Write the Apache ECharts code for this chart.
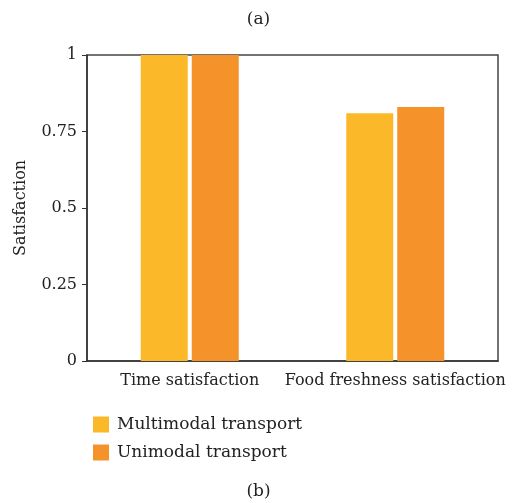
<!DOCTYPE html>
<html>
<head>
<meta charset="utf-8">
<script src="https://cdn.jsdelivr.net/npm/echarts@6/dist/echarts.min.js"></script>
<style>
  html, body { margin: 0; padding: 0; background: #fff; }
  #chart { width: 517px; height: 503px; }
</style>
</head>
<body>
<div id="chart"></div>
<script>
// Satisfaction comparison between transport modes
const categories = ['Time satisfaction', 'Food freshness satisfaction'];
const seriesNames = ['Multimodal transport', 'Unimodal transport'];
const multimodalValues = [1.0, 0.81];
const unimodalValues = [1.0, 0.83];
const colors = ['#FBB829', '#F5922A'];

const FONT = '"DejaVu Serif", "Liberation Serif", serif';
const chart = echarts.init(document.getElementById('chart'), null, { renderer: 'canvas' });

chart.setOption({
  animation: false,
  backgroundColor: '#fff',
  title: [
    { text: '(a)', left: 'center', top: 6, textStyle: { fontFamily: FONT, fontSize: 17, fontWeight: 'normal', color: '#222' } },
    { text: '(b)', left: 'center', top: 478, textStyle: { fontFamily: FONT, fontSize: 17, fontWeight: 'normal', color: '#222' } }
  ],
  legend: {
    orient: 'vertical',
    left: 88,
    top: 411,
    itemWidth: 16,
    itemHeight: 16,
    itemGap: 11,
    icon: 'rect',
    data: seriesNames,
    textStyle: { fontFamily: FONT, fontSize: 17, color: '#222', padding: [0, 0, 0, 3] }
  },
  grid: {
    left: 87, right: 19, top: 55, bottom: 142,
    show: true, borderColor: '#444', borderWidth: 1.5, backgroundColor: 'transparent'
  },
  xAxis: {
    type: 'category',
    data: categories,
    axisLine: { lineStyle: { color: '#333', width: 1.5 } },
    axisTick: { show: false },
    axisLabel: { fontFamily: FONT, fontSize: 16, color: '#222', margin: 12, interval: 0 }
  },
  yAxis: {
    type: 'value',
    min: 0, max: 1, interval: 0.25,
    name: 'Satisfaction',
    nameLocation: 'middle',
    nameGap: 58,
    nameTextStyle: { fontFamily: FONT, fontSize: 16, color: '#222' },
    axisLine: { show: true, lineStyle: { color: '#333', width: 1.5 } },
    axisTick: { show: true, length: 5, lineStyle: { color: '#333' } },
    splitLine: { show: false },
    axisLabel: { fontFamily: FONT, fontSize: 16, color: '#222', margin: 10 }
  },
  series: [
    {
      name: seriesNames[0], type: 'bar', data: multimodalValues,
      itemStyle: { color: colors[0] }, barWidth: 47, barGap: '8.5%'
    },
    {
      name: seriesNames[1], type: 'bar', data: unimodalValues,
      itemStyle: { color: colors[1] }, barWidth: 47, barGap: '8.5%'
    }
  ]
});
</script>
</body>
</html>
